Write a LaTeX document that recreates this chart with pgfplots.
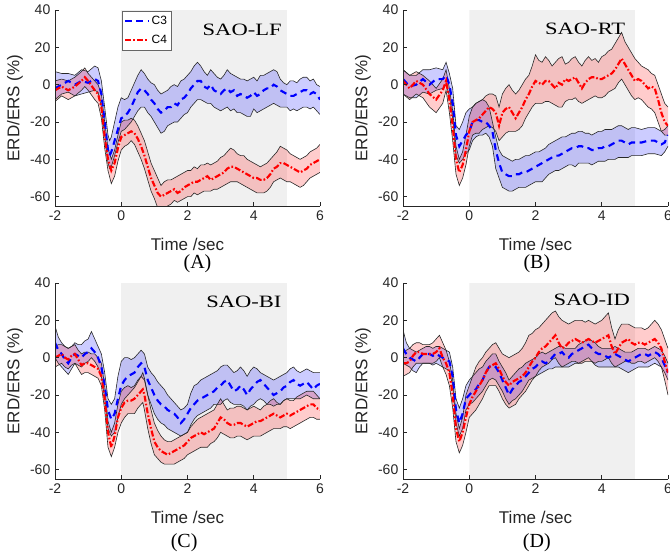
\documentclass[border=0pt]{standalone}
\usepackage{pgfplots}
\pgfplotsset{compat=1.18}
\usepackage{pgfplotstable}
\usepgfplotslibrary{fillbetween}
\usepackage{fontspec}
\setmainfont{Liberation Serif}
\setsansfont{Liberation Sans}

\definecolor{shade}{RGB}{240,240,240}
\definecolor{edge}{RGB}{40,40,40}
\definecolor{axisgray}{RGB}{38,38,38}

% columns: t  mean  lower  upper
\pgfplotstableread{
t m lo hi
-2.0 -2 -8 7
-1.8 0 -5 6
-1.6 2 -4 6
-1.4 0 -6 5
-1.2 2 -5 8
-1.0 1 -4 7
-0.8 3 -3 10
-0.7 2 -4 9
-0.6 -5 -12 2
-0.5 -20 -27 -12
-0.4 -35 -42 -27
-0.35 -38 -45 -30
-0.3 -36 -44 -28
-0.2 -30 -38 -20
-0.1 -24 -31 -12
0.0 -18 -25 -7
0.1 -17 -24 -8
0.2 -15 -22 -7
0.3 -12 -20 -3
0.4 -8 -17 1
0.5 -4 -14 5
0.6 -2 -12 8
0.7 -3 -12 6
0.8 -5 -15 3
0.9 -8 -17 1
1.0 -10 -20 0
1.1 -13 -23 -3
1.2 -15 -26 -5
1.3 -14 -25 -4
1.4 -12 -22 -3
1.5 -12 -21 -1
1.6 -10 -20 0
1.7 -11 -20 -1
1.8 -8 -18 2
1.9 -7 -16 3
2.0 -5 -15 5
2.1 -2 -12 7
2.2 0 -10 10
2.3 2 -8 12
2.4 2 -8 10
2.5 -1 -9 7
2.6 -2 -10 5
2.7 0 -10 8
2.8 -3 -12 6
2.9 -4 -13 4
3.0 -5 -14 3
3.1 -3 -13 5
3.2 -2 -12 8
3.3 -4 -14 6
3.4 -3 -13 5
3.5 -6 -15 4
3.6 -5 -15 3
3.7 -6 -16 3
3.8 -7 -17 2
3.9 -6 -17 3
4.0 -4 -13 4
4.1 -6 -15 2
4.2 -5 -14 5
4.3 -3 -13 5
4.4 -2 -12 6
4.5 -2 -11 7
4.6 0 -10 8
4.7 -1 -11 7
4.8 -3 -12 3
4.9 -4 -12 1
5.0 -5 -12 0
5.1 -6 -14 2
5.2 -6 -13 2
5.3 -5 -14 1
5.4 -4 -13 3
5.5 -3 -12 4
5.6 -3 -12 4
5.7 -5 -13 2
5.8 -4 -12 3
5.9 -5 -14 0
6.0 -8 -16 -1
}\AthreeT

\pgfplotstableread{
t m lo hi
-2.0 -3 -9 2
-1.8 -1 -6 3
-1.6 -3 -8 2
-1.4 -1 -6 4
-1.2 2 -3 7
-1.1 4 -1 9
-1.0 2 -3 6
-0.8 -3 -8 2
-0.7 -5 -10 0
-0.6 -12 -18 -5
-0.5 -28 -34 -20
-0.4 -40 -46 -34
-0.3 -46 -53 -40
-0.2 -42 -49 -35
-0.1 -34 -41 -27
0.0 -28 -35 -20
0.1 -27 -33 -19
0.2 -26 -32 -19
0.3 -25 -30 -18
0.4 -26 -32 -19
0.5 -29 -36 -22
0.6 -33 -40 -26
0.7 -38 -45 -30
0.8 -44 -51 -36
0.9 -50 -57 -42
1.0 -54 -61 -46
1.1 -58 -66 -50
1.2 -60 -67 -54
1.3 -59 -66 -52
1.4 -58 -65 -51
1.5 -57 -64 -51
1.6 -56 -62 -50
1.7 -58 -63 -49
1.8 -57 -62 -48
1.9 -55 -61 -47
2.0 -54 -60 -46
2.1 -53 -60 -46
2.2 -52 -58 -44
2.3 -52 -59 -45
2.4 -51 -58 -43
2.5 -50 -57 -43
2.6 -49 -57 -42
2.7 -51 -57 -43
2.8 -50 -56 -42
2.9 -49 -56 -41
3.0 -48 -55 -39
3.1 -47 -54 -38
3.2 -45 -53 -36
3.3 -44 -52 -34
3.4 -44 -52 -35
3.5 -45 -52 -37
3.6 -46 -53 -38
3.7 -47 -54 -38
3.8 -48 -55 -40
3.9 -49 -56 -41
4.0 -50 -57 -42
4.1 -50 -58 -43
4.2 -51 -58 -44
4.3 -51 -58 -43
4.4 -50 -57 -42
4.5 -48 -55 -40
4.6 -45 -52 -38
4.7 -44 -51 -36
4.8 -42 -50 -33
4.9 -42 -51 -34
5.0 -43 -52 -35
5.1 -44 -52 -37
5.2 -45 -53 -38
5.3 -46 -54 -39
5.4 -47 -55 -40
5.5 -46 -54 -39
5.6 -45 -52 -38
5.7 -43 -50 -36
5.8 -42 -49 -35
5.9 -41 -48 -34
6.0 -40 -47 -32
}\AfourT

\pgfplotstableread{
t m lo hi
-2.0 3 -5 8
-1.8 -1 -7 5
-1.6 0 -7 5
-1.4 3 -4 8
-1.2 0 -5 8
-1.0 3 -3 9
-0.8 3 -2 8
-0.7 5 0 12
-0.6 0 -6 6
-0.5 -10 -18 -2
-0.4 -27 -38 -22
-0.3 -33 -42 -24
-0.2 -30 -40 -20
-0.1 -27 -37 -15
0.0 -25 -35 -13
0.1 -20 -30 -12
0.2 -19 -28 -10
0.3 -19 -27 -9
0.4 -20 -27 -8
0.5 -20 -26 -9
0.6 -22 -28 -12
0.7 -25 -33 -20
0.8 -35 -45 -28
0.9 -42 -50 -35
1.0 -47 -55 -38
1.1 -48 -56 -39
1.2 -49 -57 -40
1.3 -49 -57 -41
1.4 -48 -56 -40
1.5 -48 -55 -40
1.6 -47 -55 -39
1.7 -47 -55 -38
1.8 -46 -54 -38
1.9 -45 -53 -37
2.0 -44 -52 -36
2.1 -43 -52 -36
2.2 -42 -52 -35
2.3 -41 -50 -34
2.4 -40 -48 -32
2.5 -39 -47 -31
2.6 -38 -46 -30
2.7 -38 -46 -29
2.8 -37 -45 -28
2.9 -36 -44 -28
3.0 -35 -43 -27
3.1 -34 -43 -26
3.2 -34 -44 -26
3.3 -33 -42 -25
3.4 -33 -42 -25
3.5 -34 -42 -26
3.6 -34 -42 -26
3.7 -35 -43 -27
3.8 -35 -42 -26
3.9 -34 -41 -25
4.0 -34 -41 -25
4.1 -33 -41 -24
4.2 -33 -40 -24
4.3 -32 -40 -24
4.4 -31 -40 -23
4.5 -30 -39 -22
4.6 -30 -39 -22
4.7 -31 -39 -23
4.8 -32 -39 -24
4.9 -31 -38 -23
5.0 -31 -38 -23
5.2 -31 -38 -24
5.4 -30 -37 -23
5.6 -30 -37 -23
5.8 -32 -38 -25
5.9 -31 -36 -24
6.0 -27 -33 -22
}\BthreeT

\pgfplotstableread{
t m lo hi
-2.0 2 -5 8
-1.8 -2 -8 5
-1.6 2 -5 7
-1.4 0 -7 5
-1.2 -5 -12 2
-1.0 -8 -15 -2
-0.8 -3 -10 3
-0.7 2 -3 8
-0.6 -8 -15 -2
-0.5 -22 -30 -14
-0.4 -40 -48 -33
-0.3 -47 -54 -40
-0.2 -43 -50 -36
-0.1 -35 -43 -27
0.0 -25 -33 -17
0.1 -20 -27 -12
0.2 -19 -26 -10
0.3 -18 -26 -9
0.4 -16 -24 -8
0.5 -14 -23 -6
0.6 -12 -22 -5
0.7 -13 -23 -5
0.8 -15 -25 -6
0.9 -22 -30 -12
1.0 -15 -28 -5
1.1 -13 -26 -2
1.2 -12 -25 0
1.3 -15 -25 -3
1.4 -18 -25 -5
1.5 -15 -24 -3
1.6 -12 -22 0
1.7 -8 -18 3
1.8 -5 -15 5
1.9 -1 -12 10
2.0 2 -10 16
2.1 1 -10 13
2.2 0 -10 12
2.3 2 -9 15
2.4 2 -9 13
2.5 0 -10 10
2.6 -2 -11 12
2.7 1 -12 14
2.8 0 -12 15
2.9 3 -9 11
3.0 2 -8 12
3.1 3 -8 14
3.2 4 -7 15
3.3 1 -9 12
3.4 -2 -10 10
3.5 1 -9 13
3.6 3 -8 15
3.7 4 -7 13
3.8 4 -6 14
3.9 3 -7 12
4.0 3 -7 15
4.1 4 -6 16
4.2 5 -4 18
4.3 6 -3 19
4.4 8 -2 22
4.5 11 1 25
4.6 14 3 28
4.7 11 0 23
4.8 8 -3 20
4.9 5 -6 17
5.0 2 -8 14
5.1 3 -7 12
5.2 2 -8 10
5.3 0 -10 9
5.4 -2 -12 8
5.5 -1 -13 6
5.6 -2 -15 5
5.7 -8 -20 0
5.8 -15 -25 -5
5.9 -20 -27 -10
6.0 -22 -27 -12
}\BfourT

\pgfplotstableread{
t m lo hi
-2.0 8 0 17
-1.9 4 -3 11
-1.8 2 -5 8
-1.7 -1 -7 6
-1.6 -3 -9 5
-1.5 0 -6 6
-1.4 2 -3 8
-1.3 1 -4 7
-1.2 0 -5 7
-1.1 2 -3 9
-1.0 3 -2 10
-0.9 5 0 14
-0.8 3 -2 10
-0.7 0 -5 6
-0.6 -5 -10 2
-0.5 -15 -22 -8
-0.4 -28 -38 -22
-0.3 -33 -42 -25
-0.2 -30 -40 -22
-0.1 -22 -32 -10
0.0 -15 -25 -2
0.1 -12 -22 0
0.2 -10 -20 0
0.3 -9 -18 -1
0.4 -8 -16 0
0.5 -5 -13 2
0.6 -3 -10 4
0.7 -5 -12 2
0.8 -12 -20 -5
0.9 -16 -25 -8
1.0 -20 -30 -10
1.1 -23 -33 -13
1.2 -25 -35 -15
1.3 -26 -36 -17
1.4 -28 -38 -20
1.5 -29 -39 -22
1.6 -30 -40 -24
1.7 -32 -41 -26
1.8 -35 -42 -28
1.9 -33 -41 -27
2.0 -30 -40 -25
2.1 -27 -36 -19
2.2 -25 -33 -15
2.3 -23 -31 -14
2.4 -22 -30 -12
2.5 -21 -29 -11
2.6 -20 -28 -10
2.7 -19 -27 -9
2.8 -18 -25 -8
2.9 -16 -25 -7
3.0 -15 -25 -5
3.1 -13 -23 -4
3.2 -12 -22 -4
3.3 -15 -24 -6
3.4 -18 -25 -8
3.5 -17 -25 -7
3.6 -15 -25 -5
3.7 -17 -26 -7
3.8 -20 -28 -10
3.9 -17 -26 -7
4.0 -15 -25 -5
4.1 -13 -23 -6
4.2 -12 -22 -8
4.3 -14 -23 -9
4.4 -16 -25 -10
4.5 -18 -25 -11
4.6 -20 -26 -12
4.7 -19 -25 -11
4.8 -18 -25 -10
4.9 -16 -23 -9
5.0 -15 -22 -8
5.1 -13 -22 -6
5.2 -12 -22 -5
5.3 -14 -22 -7
5.4 -15 -22 -8
5.5 -14 -21 -7
5.6 -13 -20 -6
5.7 -15 -21 -7
5.8 -17 -22 -8
5.9 -15 -22 -8
6.0 -14 -22 -8
}\CthreeT

\pgfplotstableread{
t m lo hi
-2.0 0 -5 6
-1.9 1 -4 7
-1.8 2 -3 7
-1.7 0 -5 6
-1.6 -1 -6 5
-1.5 1 -4 6
-1.4 2 -3 7
-1.3 -1 -6 4
-1.2 -4 -9 2
-1.1 -3 -8 3
-1.0 -3 -8 3
-0.9 -4 -9 2
-0.8 -5 -10 2
-0.7 -6 -11 0
-0.6 -10 -15 -3
-0.5 -22 -28 -15
-0.4 -40 -48 -34
-0.3 -48 -53 -40
-0.2 -42 -48 -35
-0.1 -32 -40 -25
0.0 -27 -35 -18
0.1 -24 -32 -16
0.2 -23 -30 -15
0.3 -23 -30 -16
0.4 -22 -30 -15
0.5 -20 -27 -12
0.6 -18 -25 -10
0.65 -17 -24 -8
0.7 -20 -28 -11
0.8 -30 -38 -20
0.9 -38 -46 -28
1.0 -45 -52 -35
1.1 -48 -54 -39
1.2 -50 -56 -42
1.3 -51 -57 -44
1.4 -52 -57 -45
1.5 -51 -57 -45
1.6 -50 -57 -44
1.7 -49 -56 -43
1.8 -48 -55 -42
1.9 -47 -54 -41
2.0 -45 -52 -40
2.1 -43 -51 -37
2.2 -42 -50 -35
2.3 -41 -49 -33
2.4 -40 -48 -32
2.5 -41 -48 -31
2.6 -40 -48 -30
2.7 -39 -46 -29
2.8 -38 -45 -28
2.9 -35 -43 -25
3.0 -32 -40 -22
3.1 -33 -41 -25
3.2 -35 -42 -28
3.3 -36 -43 -27
3.4 -36 -43 -27
3.5 -35 -42 -26
3.6 -35 -42 -26
3.7 -36 -43 -27
3.8 -37 -44 -28
3.9 -36 -43 -27
4.0 -35 -42 -26
4.1 -34 -42 -27
4.2 -34 -42 -28
4.3 -33 -41 -26
4.4 -32 -40 -25
4.5 -31 -39 -23
4.6 -30 -38 -22
4.7 -31 -38 -24
4.8 -32 -38 -25
4.9 -31 -37 -23
5.0 -30 -37 -22
5.1 -31 -38 -23
5.2 -30 -37 -23
5.3 -29 -36 -21
5.4 -28 -35 -20
5.5 -27 -34 -19
5.6 -26 -33 -18
5.7 -25 -32 -18
5.8 -25 -32 -18
5.9 -27 -33 -20
6.0 -28 -33 -22
}\CfourT

\pgfplotstableread{
t m lo hi
-2.0 5 -3 15
-1.9 2 -4 8
-1.8 0 -5 5
-1.7 -1 -7 4
-1.6 -2 -8 3
-1.5 0 -5 4
-1.4 2 -3 5
-1.3 2 -3 6
-1.2 2 -3 6
-1.1 1 -4 5
-1.0 2 -3 6
-0.9 1 -4 6
-0.8 0 -5 5
-0.7 -1 -6 4
-0.6 -2 -7 3
-0.5 -10 -15 -5
-0.4 -28 -35 -22
-0.3 -35 -42 -27
-0.2 -30 -38 -22
-0.1 -22 -28 -15
0.0 -20 -25 -12
0.1 -18 -24 -10
0.2 -17 -22 -8
0.3 -14 -20 -6
0.4 -12 -18 -5
0.5 -8 -15 -2
0.6 -5 -12 0
0.7 -4 -11 2
0.8 -5 -12 2
0.9 -8 -15 -2
1.0 -12 -18 -5
1.1 -16 -22 -8
1.2 -20 -25 -12
1.3 -17 -23 -10
1.4 -15 -22 -8
1.5 -13 -20 -6
1.6 -12 -18 -5
1.7 -10 -15 -3
1.8 -8 -12 -2
1.9 -6 -11 -1
2.0 -5 -10 0
2.1 -3 -9 2
2.2 -2 -8 3
2.3 -3 -7 2
2.4 -2 -6 3
2.5 0 -6 4
2.6 2 -5 5
2.7 2 -5 6
2.8 3 -5 6
2.9 1 -5 5
3.0 0 -5 5
3.1 2 -4 5
3.2 3 -3 5
3.3 4 -3 7
3.4 5 -2 8
3.5 6 -1 9
3.6 7 0 10
3.7 5 -2 9
3.8 3 -4 8
3.9 2 -5 6
4.0 2 -5 5
4.1 1 -5 5
4.2 0 -5 5
4.3 1 -5 5
4.4 2 -5 6
4.5 1 -5 5
4.6 0 -6 4
4.7 -1 -7 3
4.8 -2 -8 3
4.9 -1 -7 3
5.0 0 -6 4
5.1 1 -5 5
5.2 2 -5 5
5.3 2 -5 5
5.4 1 -5 4
5.5 2 -4 5
5.6 3 -3 6
5.7 2 -4 5
5.8 0 -5 4
5.9 -4 -8 1
6.0 -8 -12 -3
}\DthreeT

\pgfplotstableread{
t m lo hi
-2.0 -3 -10 2
-1.9 -3 -9 4
-1.8 -2 -8 5
-1.7 1 -5 7
-1.6 3 -3 8
-1.5 3 -3 8
-1.4 2 -3 7
-1.3 2 -3 7
-1.2 2 -3 7
-1.1 2 -3 8
-1.0 3 -2 10
-0.9 5 0 12
-0.8 0 -5 8
-0.7 -3 -9 4
-0.6 -8 -15 -2
-0.5 -20 -27 -12
-0.4 -38 -45 -30
-0.3 -45 -51 -38
-0.2 -40 -47 -32
-0.1 -32 -40 -20
0.0 -25 -32 -15
0.1 -21 -30 -10
0.2 -18 -28 -5
0.3 -15 -25 -2
0.4 -12 -22 0
0.5 -8 -18 3
0.6 -5 -15 5
0.7 -4 -15 7
0.8 -3 -15 8
0.9 -6 -18 5
1.0 -10 -22 2
1.1 -13 -25 1
1.2 -15 -27 0
1.3 -13 -26 1
1.4 -12 -25 2
1.5 -11 -22 3
1.6 -10 -20 5
1.7 -8 -18 8
1.8 -5 -15 12
1.9 -2 -12 13
2.0 0 -10 15
2.1 3 -7 16
2.2 5 -5 18
2.3 6 -4 20
2.4 8 -3 22
2.5 10 -1 24
2.6 12 0 25
2.7 8 -3 22
2.8 5 -5 20
2.9 6 -4 19
3.0 8 -3 18
3.1 9 -2 19
3.2 10 -2 20
3.3 9 -3 20
3.4 8 -3 20
3.5 9 -2 19
3.6 10 -2 20
3.7 9 -2 19
3.8 8 -3 18
3.9 9 -2 19
4.0 10 -2 20
4.1 11 -1 22
4.2 12 0 24
4.3 6 -3 16
4.4 2 -5 10
4.5 5 -4 15
4.6 8 -3 18
4.7 9 -2 18
4.8 10 -2 18
4.9 8 -3 17
5.0 7 -3 16
5.1 8 -2 16
5.2 8 -2 16
5.3 7 -3 15
5.4 8 -2 16
5.5 9 -1 18
5.6 10 0 20
5.7 8 -2 18
5.8 5 -5 15
5.9 -2 -12 10
6.0 -8 -20 5
}\DfourT

\pgfplotsset{
  panel/.style={
    scale only axis, width=198.75pt, height=147pt,
    xmin=-2, xmax=6, ymin=-65, ymax=40,
    axis x line*=bottom, axis y line*=left,
    xtick={-2,0,2,4,6}, ytick={-60,-40,-20,0,20,40},
    tick align=inside, major tick length=3pt,
    axis line style={draw=axisgray, line width=0.5pt},
    tick style={draw=axisgray, line width=0.5pt},
    ticklabel style={font=\sffamily\fontsize{10.5}{12}\selectfont, text=axisgray},
    /pgf/number format/assume math mode=true,
    set layers, axis on top=true,
  },
  grayzone/.style={fill=shade, draw=none, forget plot, on layer=axis background},
  bandedge/.style={draw=edge, line width=0.45pt, forget plot},
  cthree/.style={blue, line width=1.6pt, dash pattern=on 5pt off 3.5pt},
  cfour/.style={red, line width=1.6pt, dash pattern=on 4.5pt off 1.6pt on 1.2pt off 1.6pt},
}

\newcommand{\lblfont}{\sffamily\fontsize{12.75}{14}\selectfont\color{axisgray}}
\newcommand{\tagfont}{\fontsize{15}{17}\selectfont}

\begin{document}
\begin{tikzpicture}

% (A)
\begin{axis}[panel, name=A, at={(41.25pt,-154.5pt)}, anchor=south west,
  legend style={at={(0.252,0.996)}, anchor=north west, draw=black!60,
    font=\sffamily\fontsize{9}{10}\selectfont, inner sep=1.5pt, row sep=2.5pt, fill=white},
  legend cell align=left]
\addplot[grayzone] coordinates {(0,-65) (0,40) (5,40) (5,-65) (0,-65)};
\addplot[bandedge, name path=a1] table[x=t, y=hi] {\AthreeT};
\addplot[bandedge, name path=a2] table[x=t, y=lo] {\AthreeT};
\addplot[fill=blue, fill opacity=0.2, draw=none, forget plot] fill between[of=a1 and a2];
\addplot[bandedge, name path=a3] table[x=t, y=hi] {\AfourT};
\addplot[bandedge, name path=a4] table[x=t, y=lo] {\AfourT};
\addplot[fill=red, fill opacity=0.2, draw=none, forget plot] fill between[of=a3 and a4];
\addplot[cthree] table[x=t, y=m] {\AthreeT};
\addplot[cfour] table[x=t, y=m] {\AfourT};
\legend{C3, C4}
\node[font=\fontsize{13}{15}\selectfont, xscale=1.3] at (axis cs:3.65,29.5) {SAO-LF};
\end{axis}

% (B)
\begin{axis}[panel, name=B, at={(302.25pt,-154.5pt)}, anchor=south west]
\addplot[grayzone] coordinates {(0,-65) (0,40) (5,40) (5,-65) (0,-65)};
\addplot[bandedge, name path=b1] table[x=t, y=hi] {\BthreeT};
\addplot[bandedge, name path=b2] table[x=t, y=lo] {\BthreeT};
\addplot[fill=blue, fill opacity=0.2, draw=none, forget plot] fill between[of=b1 and b2];
\addplot[bandedge, name path=b3] table[x=t, y=hi] {\BfourT};
\addplot[bandedge, name path=b4] table[x=t, y=lo] {\BfourT};
\addplot[fill=red, fill opacity=0.2, draw=none, forget plot] fill between[of=b3 and b4];
\addplot[cthree] table[x=t, y=m] {\BthreeT};
\addplot[cfour] table[x=t, y=m] {\BfourT};
\node[font=\fontsize{13}{15}\selectfont, xscale=1.3] at (axis cs:3.5,29.8) {SAO-RT};
\end{axis}

% (C)
\begin{axis}[panel, name=C, at={(41.25pt,-359.25pt)}, anchor=south west]
\addplot[grayzone] coordinates {(0,-65) (0,40) (5,40) (5,-65) (0,-65)};
\addplot[bandedge, name path=c1] table[x=t, y=hi] {\CthreeT};
\addplot[bandedge, name path=c2] table[x=t, y=lo] {\CthreeT};
\addplot[fill=blue, fill opacity=0.2, draw=none, forget plot] fill between[of=c1 and c2];
\addplot[bandedge, name path=c3] table[x=t, y=hi] {\CfourT};
\addplot[bandedge, name path=c4] table[x=t, y=lo] {\CfourT};
\addplot[fill=red, fill opacity=0.2, draw=none, forget plot] fill between[of=c3 and c4];
\addplot[cthree] table[x=t, y=m] {\CthreeT};
\addplot[cfour] table[x=t, y=m] {\CfourT};
\node[font=\fontsize{13}{15}\selectfont, xscale=1.3] at (axis cs:3.7,29.7) {SAO-BI};
\end{axis}

% (D)
\begin{axis}[panel, name=D, at={(302.25pt,-359.25pt)}, anchor=south west]
\addplot[grayzone] coordinates {(0,-65) (0,40) (5,40) (5,-65) (0,-65)};
\addplot[bandedge, name path=d1] table[x=t, y=hi] {\DthreeT};
\addplot[bandedge, name path=d2] table[x=t, y=lo] {\DthreeT};
\addplot[fill=blue, fill opacity=0.2, draw=none, forget plot] fill between[of=d1 and d2];
\addplot[bandedge, name path=d3] table[x=t, y=hi] {\DfourT};
\addplot[bandedge, name path=d4] table[x=t, y=lo] {\DfourT};
\addplot[fill=red, fill opacity=0.2, draw=none, forget plot] fill between[of=d3 and d4];
\addplot[cthree] table[x=t, y=m] {\DthreeT};
\addplot[cfour] table[x=t, y=m] {\DfourT};
\node[font=\fontsize{13}{15}\selectfont, xscale=1.3] at (axis cs:3.7,31) {SAO-ID};
\end{axis}

\foreach \p/\dx/\dy in {A/7.5pt/-43.5pt, B/1pt/-43.5pt, C/-2.5pt/-48pt, D/1pt/-48pt}{
  \node[font=\lblfont] at ([yshift=-28.5pt]\p.south) {Time /sec};
  \node[font=\lblfont, rotate=90] at ([xshift=-30pt]\p.west) {ERD/ERS (\%)};
  \node[font=\tagfont] at ([xshift=\dx, yshift=\dy]\p.south) {(\p)};
}

\pgfresetboundingbox
\useasboundingbox (0,0) rectangle (502.5pt,-415.5pt);
\end{tikzpicture}
\end{document}
